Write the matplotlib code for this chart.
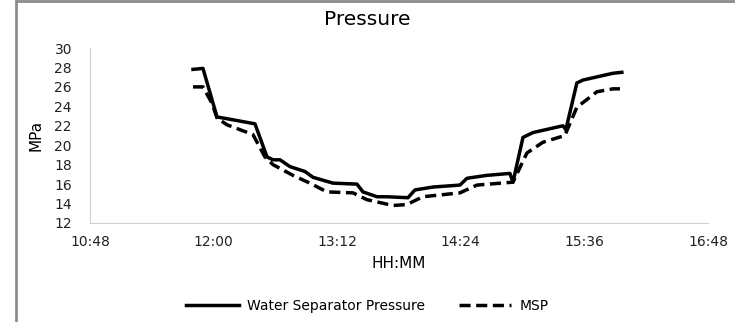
import matplotlib.pyplot as plt
from matplotlib.patches import Rectangle
from matplotlib.ticker import FuncFormatter, MultipleLocator

plt.rcParams['font.family'] = ['DejaVu Sans']

# time in minutes since midnight
wsp_t = [708, 713.8, 722, 725.5, 744.1, 751.1, 754.6, 758.7, 764.5, 773.2, 777.9,
         789.5, 803.5, 807, 815.2, 821, 833.2, 837.3, 847.8, 863.5, 867.6,
         879.2, 892.6, 894.4, 900.2, 906, 923.5, 925.2, 931.6, 935.1, 952.6, 957.8]
wsp_p = [27.8, 27.9, 22.9, 22.8, 22.2, 18.8, 18.5, 18.5, 17.8, 17.3, 16.7,
         16.1, 16.0, 15.2, 14.7, 14.7, 14.6, 15.4, 15.7, 15.9, 16.6,
         16.9, 17.1, 16.2, 20.8, 21.3, 22.0, 21.6, 26.4, 26.7, 27.4, 27.5]

msp_t = [708, 713.8, 719.1, 722, 727.8, 742.9, 749.9, 754.6, 766.2, 776.1,
         786, 801.2, 809.3, 824.5, 832.6, 841.9, 863.5, 873.4, 894.4, 902.5,
         911.8, 924.6, 931.6, 943.3, 952.6, 956.7]
msp_p = [26.0, 26.0, 24.3, 22.8, 22.1, 21.1, 18.8, 18.0, 16.9, 16.1,
         15.2, 15.1, 14.4, 13.8, 13.9, 14.7, 15.1, 15.9, 16.2, 19.2,
         20.3, 21.0, 23.9, 25.5, 25.8, 25.8]

fig = plt.figure(figsize=(7.35, 3.22), dpi=100)
fig.patches.append(Rectangle((16 / 735, -0.1), 1.2, 1.0968, transform=fig.transFigure,
                             fill=False, edgecolor='#8c8c8c', linewidth=2))
ax = fig.add_axes([90 / 735, 1 - 223 / 322, 618 / 735, 175 / 322])

ax.plot(wsp_t, wsp_p, color='black', lw=2.5, label='Water Separator Pressure',
        solid_joinstyle='round')
ax.plot(msp_t, msp_p, color='black', lw=2.5, ls=(0, (3.2, 1.6)), label='MSP')

ax.set_xlim(648, 1008)
ax.set_ylim(12, 30)
ax.xaxis.set_major_locator(MultipleLocator(72))
ax.yaxis.set_major_locator(MultipleLocator(2))
ax.xaxis.set_major_formatter(FuncFormatter(lambda v, p: f'{int(v // 60)}:{int(v % 60):02d}'))
ax.tick_params(length=0, labelsize=10, colors='#222222')
ax.tick_params(axis='y', pad=13)
ax.tick_params(axis='x', pad=9)
for s in ['top', 'right']:
    ax.spines[s].set_visible(False)
for s in ['left', 'bottom']:
    ax.spines[s].set_color('#d0d0d0')

fig.suptitle('Pressure', x=0.5, y=0.97, fontsize=14.5)
ax.set_xlabel('HH:MM', fontsize=11, labelpad=5)
ax.set_ylabel('MPa', fontsize=11, labelpad=8)
ax.legend(loc='center', bbox_to_anchor=(367.5 / 735, 16 / 322), bbox_transform=fig.transFigure,
          ncol=2, frameon=False, fontsize=10, handlelength=3.8, columnspacing=2.4,
          handletextpad=0.6, borderaxespad=0)

fig.savefig('out.png', dpi=100)
